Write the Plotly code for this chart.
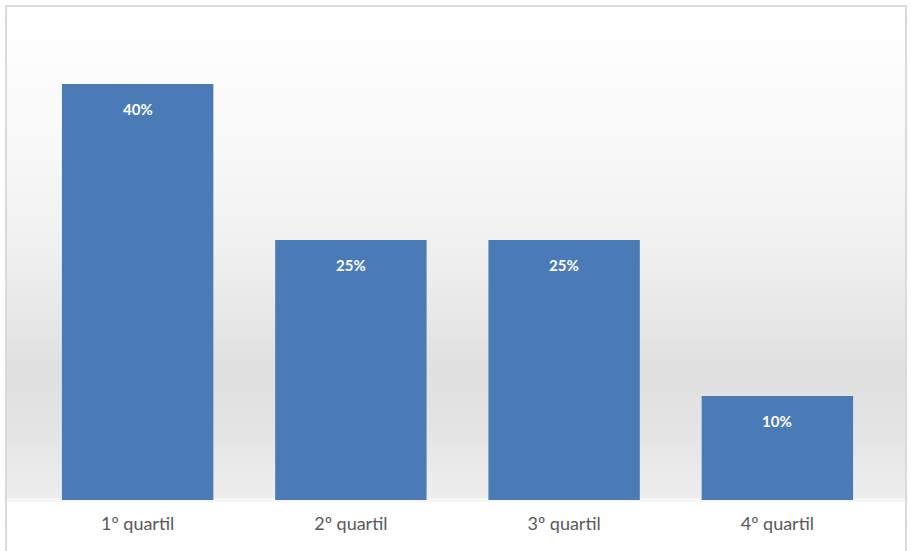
import plotly.graph_objects as go

categories = ["1º quartil", "2º quartil", "3º quartil", "4º quartil"]
values = [40, 25, 25, 10]
labels = ["40%", "25%", "25%", "10%"]

W, H = 911, 551
ML, MR, MT, MB = 31, 27, 32, 51
pw = W - ML - MR
ph = H - MT - MB

def px2paper_y(p):
    return (H - MB - p) / ph

def px2paper_x(p):
    return (p - ML) / pw

# background gradient stops (pixel y, grey level)
stops = [(6, 255), (120, 250), (250, 240), (370, 224), (430, 228), (499, 238), (501, 254), (551, 255)]

def level(y):
    for (y0, c0), (y1, c1) in zip(stops[:-1], stops[1:]):
        if y0 <= y <= y1:
            t = (y - y0) / (y1 - y0) if y1 != y0 else 0
            return c0 + (c1 - c0) * t
    return stops[-1][1]

shapes = []
step = 4
y = 6
while y < 551:
    yb = min(y + step, 551)
    g = int(round(level((y + yb) / 2)))
    shapes.append(dict(type="rect", xref="paper", yref="paper", layer="below",
                       x0=px2paper_x(7), x1=px2paper_x(905),
                       y0=px2paper_y(yb), y1=px2paper_y(y),
                       line=dict(width=0), fillcolor=f"rgb({g},{g},{g})"))
    y = yb
# frame border
shapes.append(dict(type="rect", xref="paper", yref="paper", layer="below",
                   x0=px2paper_x(6), x1=px2paper_x(906),
                   y0=px2paper_y(560), y1=px2paper_y(6),
                   line=dict(width=2, color="#dadada"), fillcolor="rgba(0,0,0,0)"))

fig = go.Figure(go.Bar(
    x=categories, y=values,
    marker=dict(color="#4a7bb7", line=dict(width=0)),
    width=0.71,
))

annotations = [dict(x=c, y=v, text=f"<b>{l}</b>", showarrow=False, yanchor="middle",
                    yshift=-25, font=dict(color="white", size=15, family="Lato, Open Sans, sans-serif"))
               for c, v, l in zip(categories, values, labels)]

fig.update_layout(
    width=W, height=H,
    margin=dict(l=ML, r=MR, t=MT, b=MB),
    paper_bgcolor="white",
    plot_bgcolor="rgba(0,0,0,0)",
    shapes=shapes,
    annotations=annotations,
    showlegend=False,
    bargap=0.29,
    xaxis=dict(showgrid=False, showline=False, zeroline=False, ticks="",
               tickfont=dict(color="#595959", size=18, family="Lato, Open Sans, sans-serif"),
               ticklabelstandoff=11),
    yaxis=dict(range=[0, 45], visible=False, showgrid=False, zeroline=False),
)

fig.write_html("out.html", config={"displayModeBar": False},
               post_script="document.body.style.margin='0';document.body.style.overflow='hidden';")
